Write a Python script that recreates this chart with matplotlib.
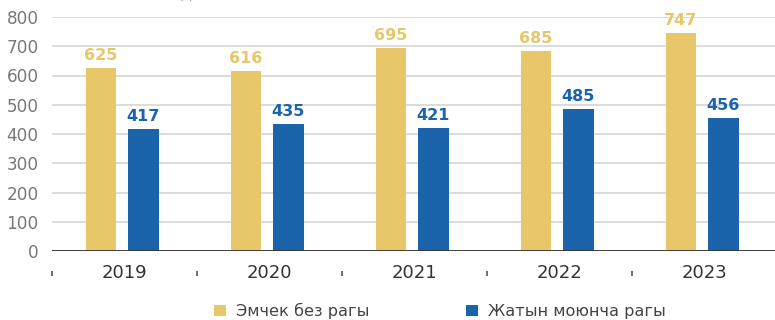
import matplotlib
matplotlib.use("Agg")
import matplotlib.pyplot as plt
from matplotlib.patches import Patch
import numpy as np

years = ["2019", "2020", "2021", "2022", "2023"]
breast_cancer = [625, 616, 695, 685, 747]
cervical_cancer = [417, 435, 421, 485, 456]
series_names = ["Эмчек без рагы", "Жатын моюнча рагы"]
y_ticks = [0, 100, 200, 300, 400, 500, 600, 700, 800]
unit_label = "(адам)"

GOLD = "#E8C66A"
BLUE = "#1B63AA"

plt.rcParams["font.family"] = ["DejaVu Sans"]

fig = plt.figure(figsize=(7.75, 3.2), dpi=100)
ax = fig.add_axes([52 / 775, 1 - 251 / 320, 1 - 52 / 775, (251 - 17) / 320])

x = np.arange(len(years))
width = 0.212
off_gold, off_blue = -0.162, 0.131

b1 = ax.bar(x + off_gold, breast_cancer, width, color=GOLD, zorder=3)
b2 = ax.bar(x + off_blue, cervical_cancer, width, color=BLUE, zorder=3)

for bars, vals, col in ((b1, breast_cancer, GOLD), (b2, cervical_cancer, BLUE)):
    for r, v in zip(bars, vals):
        ax.annotate(str(v), (r.get_x() + r.get_width() / 2, v),
                    xytext=(0, 3.5), textcoords="offset points",
                    ha="center", va="bottom", fontsize=11.5,
                    fontweight="bold", color=col)

ax.set_ylim(0, 800)
ax.set_xlim(-0.5, len(years) - 0.5 - 2 / 145)
ax.set_yticks(y_ticks)
ax.set_yticklabels([str(t) for t in y_ticks])
ax.yaxis.grid(True, color="#d6d6d6", linewidth=1.2, zorder=0)
ax.set_axisbelow(True)
ax.axhline(0, color="#333333", linewidth=2, zorder=4)

for s in ["top", "right", "left"]:
    ax.spines[s].set_visible(False)
ax.spines["bottom"].set_position(("outward", 14.4))
ax.spines["bottom"].set_visible(False)

ax.set_xticks(x)
ax.set_xticklabels(years)
ax.set_xticks(np.arange(len(years)) - 0.5, minor=True)
ax.tick_params(axis="x", which="major", length=0, pad=-5, labelsize=13,
               labelcolor="#333333")
ax.tick_params(axis="x", which="minor", length=3.6, width=1.2, color="#555555",
               direction="out")
ax.tick_params(axis="y", length=0, pad=9.7, labelsize=12.2, labelcolor="#777777")

fig.text(193 / 775, 1 + 3 / 320, unit_label, ha="center", va="baseline",
         fontsize=12, color="#666666")

handles = [Patch(facecolor=GOLD, edgecolor="none"),
           Patch(facecolor=BLUE, edgecolor="none")]
fig.legend(handles, series_names, loc="center", bbox_to_anchor=(440 / 775, 1 - 311 / 320),
           ncol=2, frameon=False, fontsize=11.6, handlelength=0.75, handleheight=0.75,
           handletextpad=0.6, columnspacing=6.0, labelcolor="#444444")

fig.savefig("out.png", dpi=100)
